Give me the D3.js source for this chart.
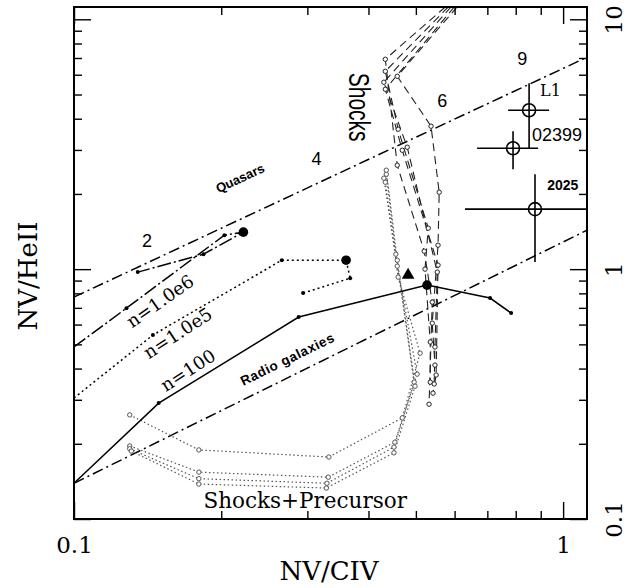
<!DOCTYPE html>
<meta charset="utf-8">
<style>
body { margin: 0; background: #fff; }
.frame { fill: none; stroke: #000; stroke-width: 2px; }
.axis path { display: none; }
.axis line { stroke: #000; stroke-width: 1.4px; }
.axis text { font-family: "DejaVu Serif", serif; font-size: 23px; fill: #000; }
.title { font-family: "DejaVu Serif", serif; font-size: 26px; }
path.model { fill: none; stroke: #000; stroke-width: 1.5px; }
path.shock { fill: none; stroke: #222; stroke-width: 1.1px; stroke-dasharray: 8,5; }
path.prec { fill: none; stroke: #555; stroke-width: 1.2px; stroke-dasharray: 1.5,2.5; }
path.ref { fill: none; stroke: #000; stroke-width: 1.5px; stroke-dasharray: 11,4,2,4; }
.sans { font-family: "Liberation Sans", Arial, sans-serif; }
.serif { font-family: "DejaVu Serif", serif; }
</style>

<div id="chart"></div>
<script src="https://d3js.org/d3.v7.min.js"></script>
<script>

// tick values and labels
var xTicksMajor = [0.1, 1];
var xTicksMinor = [0.2, 0.3, 0.4, 0.5, 0.6, 0.7, 0.8, 0.9];
var yTicksMajor = [0.1, 1, 10];
var yTicksMinor = [0.2, 0.3, 0.4, 0.5, 0.6, 0.7, 0.8, 0.9, 2, 3, 4, 5, 6, 7, 8, 9];
var tickLabels = {0.1: "0.1", 1: "1", 10: "10"};

// empirical sequences (NV/CIV, NV/HeII)
var quasars = [[0.1, 0.773], [1.119, 7.05]];
var radioGalaxies = [[0.1, 0.139], [1.119, 1.432]];

// photoionization models, big dot is the 4th point of each
var n100 = [[0.1, 0.139], [0.149, 0.291], [0.288, 0.643], [0.527, 0.863], [0.709, 0.766], [0.783, 0.667]];
var n1e5 = [[0.1, 0.305], [0.145, 0.545], [0.266, 1.086], [0.360, 1.086], [0.367, 0.920], [0.294, 0.802]];
var n1e6 = [[0.1, 0.488], [0.128, 0.698], [0.203, 1.368], [0.222, 1.406], [0.184, 1.148], [0.135, 0.973]];
var triangle = [[0.482, 0.946]];

// shock models (dashed)
var shocks = [
  [[0.574, 11.2], [0.433, 6.918], [0.458, 2.606], [0.520, 1.180], [0.540, 0.738], [0.532, 0.288]],
  [[0.582, 11.2], [0.433, 6.194], [0.460, 3.631], [0.530, 1.459], [0.522, 1.000], [0.535, 0.511], [0.535, 0.353]],
  [[0.590, 11.2], [0.430, 5.598], [0.480, 3.076], [0.553, 0.973], [0.547, 0.488], [0.545, 0.347]],
  [[0.599, 11.2], [0.433, 5.248], [0.469, 2.992], [0.555, 1.038], [0.550, 0.377], [0.542, 0.319]],
  [[0.607, 11.2], [0.458, 5.916], [0.537, 3.733], [0.558, 2.032], [0.555, 1.247], [0.540, 0.608], [0.547, 0.413]]
];

// shock + precursor models (dotted)
var precursor = [
  [[0.130, 0.261], [0.180, 0.189], [0.332, 0.177], [0.469, 0.254], [0.510, 0.461], [0.460, 0.929], [0.433, 2.228]],
  [[0.130, 0.196], [0.180, 0.154], [0.331, 0.147], [0.453, 0.203], [0.503, 0.380], [0.458, 1.028], [0.430, 2.312]],
  [[0.130, 0.191], [0.180, 0.145], [0.329, 0.139], [0.451, 0.194], [0.496, 0.353], [0.455, 1.148], [0.435, 2.399]],
  [[0.131, 0.187], [0.180, 0.138], [0.328, 0.133], [0.451, 0.184], [0.498, 0.340], [0.458, 1.086], [0.435, 2.489]]
];

// observed objects with error ranges
var obsNames = ["L1", "02399", "2025"];
var obsX = [0.852, 0.790, 0.876];
var obsY = [4.325, 3.048, 1.738];
var obsXLo = [0.772, 0.667, 0.630];
var obsXHi = [0.936, 0.889, 1.30];
var obsYLo = [3.048, 2.512, 1.067];
var obsYHi = [5.546, 3.565, 2.399];

var width = 634, height = 588;

var x = d3.scaleLog().domain([0.1, 1.119]).range([74, 587]);
var y = d3.scaleLog().domain([0.1, 11.2]).range([519, 7]);

var svg = d3.select("#chart").append("svg")
  .attr("width", width)
  .attr("height", height);

svg.append("clipPath")
  .attr("id", "clip")
  .append("rect")
  .attr("x", 74).attr("y", 7)
  .attr("width", 513).attr("height", 512);

var plot = svg.append("g").attr("clip-path", "url(#clip)");

var line = d3.line()
  .x(function(d) { return x(d[0]); })
  .y(function(d) { return y(d[1]); });

// reference sequences
plot.selectAll(".ref")
  .data([quasars, radioGalaxies])
  .enter().append("path")
  .attr("class", "ref")
  .attr("d", line);

// precursor models
plot.selectAll(".prec")
  .data(precursor)
  .enter().append("path")
  .attr("class", "prec")
  .attr("d", line);

precursor.forEach(function(p) {
  plot.selectAll(null)
    .data(p)
    .enter().append("circle")
    .attr("cx", function(d) { return x(d[0]); })
    .attr("cy", function(d) { return y(d[1]); })
    .attr("r", 2.2)
    .style("fill", "#fff")
    .style("stroke", "#555")
    .style("stroke-width", 1);
});

// shock models
plot.selectAll(".shock")
  .data(shocks)
  .enter().append("path")
  .attr("class", "shock")
  .attr("d", line);

shocks.forEach(function(s) {
  plot.selectAll(null)
    .data(s.slice(1))
    .enter().append("circle")
    .attr("cx", function(d) { return x(d[0]); })
    .attr("cy", function(d) { return y(d[1]); })
    .attr("r", 2.2)
    .style("fill", "#fff")
    .style("stroke", "#222")
    .style("stroke-width", 1);
});

// photoionization models
var models = [
  {pts: n100, dash: null},
  {pts: n1e5, dash: "2,3"},
  {pts: n1e6, dash: "14,3,2,3"}
];

plot.selectAll(".model")
  .data(models)
  .enter().append("path")
  .attr("class", "model")
  .style("stroke-dasharray", function(d) { return d.dash; })
  .attr("d", function(d) { return line(d.pts); });

models.forEach(function(m) {
  plot.selectAll(null)
    .data(m.pts.slice(1))
    .enter().append("circle")
    .attr("cx", function(d) { return x(d[0]); })
    .attr("cy", function(d) { return y(d[1]); })
    .attr("r", function(d, i) { return i === 2 ? 4.8 : 2; })
    .style("fill", "#000");
});

plot.selectAll(".tri")
  .data(triangle)
  .enter().append("path")
  .attr("class", "tri")
  .attr("d", d3.symbol().type(d3.symbolTriangle).size(70))
  .attr("transform", function(d) { return "translate(" + x(d[0]) + "," + y(d[1]) + ")"; })
  .style("fill", "#000");

// observed points
var obs = plot.selectAll(".obs")
  .data(obsNames)
  .enter().append("g")
  .attr("class", "obs");

obs.append("line")
  .attr("x1", function(d, i) { return x(obsXLo[i]); })
  .attr("x2", function(d, i) { return x(obsXHi[i]); })
  .attr("y1", function(d, i) { return y(obsY[i]); })
  .attr("y2", function(d, i) { return y(obsY[i]); });
obs.append("line")
  .attr("x1", function(d, i) { return x(obsX[i]); })
  .attr("x2", function(d, i) { return x(obsX[i]); })
  .attr("y1", function(d, i) { return y(obsYLo[i]); })
  .attr("y2", function(d, i) { return y(obsYHi[i]); });
obs.selectAll("line")
  .style("stroke", "#000")
  .style("stroke-width", 1.6);
obs.append("circle")
  .attr("cx", function(d, i) { return x(obsX[i]); })
  .attr("cy", function(d, i) { return y(obsY[i]); })
  .attr("r", 6.5)
  .style("fill", "none")
  .style("stroke", "#000")
  .style("stroke-width", 1.6);

// labels
function label(cls, txt, xv, yv, size, angle, anchor, weight) {
  return svg.append("text")
    .attr("class", cls)
    .attr("transform", "translate(" + x(xv) + "," + y(yv) + ") rotate(" + (angle || 0) + ")")
    .attr("text-anchor", anchor || "middle")
    .attr("dy", "0.35em")
    .style("font-size", size + "px")
    .style("font-weight", weight || "normal")
    .text(txt);
}

label("sans", "2", 0.141, 1.294, 18);
label("sans", "4", 0.313, 2.78, 18);
label("sans", "6", 0.566, 4.74, 18);
label("sans", "9", 0.825, 6.98, 18);
label("serif", "L1", 0.897, 5.20, 16, 0, "start");
label("sans", "02399", 0.864, 3.467, 18, 0, "start");
label("sans", "2025", 0.928, 2.168, 14, 0, "start", "bold");
label("sans", "Quasars", 0.2185, 2.312, 13, -25, "middle", "bold");
label("sans", "Radio galaxies", 0.273, 0.4365, 13.5, -26, "middle", "bold")
  .style("letter-spacing", "0.6px");
label("serif", "n=1.0e6", 0.150, 0.745, 18, -35);
label("serif", "n=1.0e5", 0.163, 0.555, 18, -33);
label("serif", "n=100", 0.171, 0.394, 18, -33);
label("serif", "Shocks+Precursor", 0.297, 0.1185, 21.5);

svg.append("text")
  .attr("class", "sans")
  .attr("transform", "translate(" + x(0.383) + "," + y(4.45) + ") rotate(90) scale(1,1.4)")
  .attr("text-anchor", "middle")
  .attr("dy", "0.35em")
  .style("font-size", "21px")
  .text("Shocks");

// axes: inward ticks
svg.append("g").attr("class", "axis")
  .attr("transform", "translate(0,519)")
  .call(d3.axisBottom(x).tickValues(xTicksMinor).tickSize(-8).tickFormat(""));
svg.append("g").attr("class", "axis")
  .attr("transform", "translate(0,7)")
  .call(d3.axisTop(x).tickValues(xTicksMinor).tickSize(-8).tickFormat(""));
svg.append("g").attr("class", "axis")
  .attr("transform", "translate(0,7)")
  .call(d3.axisTop(x).tickValues(xTicksMajor).tickSize(-17).tickFormat(""));
svg.append("g").attr("class", "axis")
  .attr("transform", "translate(74,0)")
  .call(d3.axisLeft(y).tickValues(yTicksMinor).tickSize(-8).tickFormat(""));
svg.append("g").attr("class", "axis")
  .attr("transform", "translate(74,0)")
  .call(d3.axisLeft(y).tickValues(yTicksMajor).tickSize(-17).tickFormat(""));
svg.append("g").attr("class", "axis")
  .attr("transform", "translate(587,0)")
  .call(d3.axisRight(y).tickValues(yTicksMinor).tickSize(-8).tickFormat(""));

var xAxis = svg.append("g").attr("class", "axis")
  .attr("transform", "translate(0,519)")
  .call(d3.axisBottom(x).tickValues(xTicksMajor).tickSize(-17).tickPadding(18)
    .tickFormat(function(d) { return tickLabels[d]; }));
xAxis.attr("font-family", null).attr("font-size", null);

var yAxis = svg.append("g").attr("class", "axis")
  .attr("transform", "translate(587,0)")
  .call(d3.axisRight(y).tickValues(yTicksMajor).tickSize(-17)
    .tickFormat(function(d) { return tickLabels[d]; }));
yAxis.attr("font-family", null).attr("font-size", null);
yAxis.selectAll("text")
  .attr("x", 0)
  .attr("dy", 0)
  .attr("text-anchor", "middle")
  .attr("transform", "translate(35,0) rotate(-90)");

svg.append("rect")
  .attr("class", "frame")
  .attr("x", 74).attr("y", 7)
  .attr("width", 513).attr("height", 512);

// axis titles
svg.append("text")
  .attr("class", "title")
  .attr("x", 329).attr("y", 580)
  .attr("text-anchor", "middle")
  .text("NV/CIV");
svg.append("text")
  .attr("class", "title")
  .attr("transform", "translate(37,276) rotate(-90)")
  .attr("text-anchor", "middle")
  .text("NV/HeII");

</script>
